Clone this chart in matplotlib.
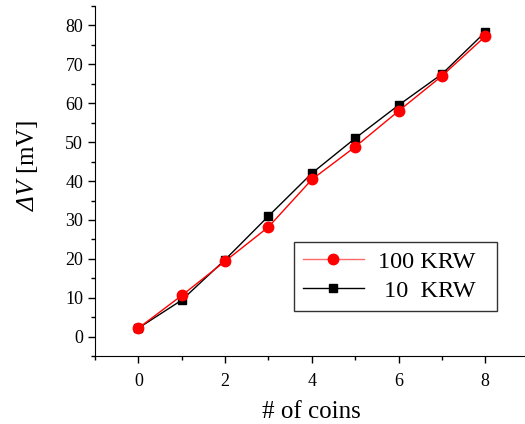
import matplotlib
matplotlib.use("Agg")
import matplotlib.pyplot as plt
from matplotlib.ticker import MultipleLocator

plt.rcParams['font.family'] = ['Liberation Serif', 'DejaVu Serif']
plt.rcParams['mathtext.fontset'] = 'custom'
plt.rcParams['mathtext.rm'] = 'Liberation Serif:italic'
plt.rcParams['mathtext.it'] = 'Liberation Serif:italic'

coins = [0, 1, 2, 3, 4, 5, 6, 7, 8]
krw100 = [2.2, 10.6, 19.4, 28.2, 40.4, 48.8, 58.0, 67.0, 77.2]
krw10 = [2.2, 9.4, 19.8, 31.0, 42.0, 51.0, 59.5, 67.5, 78.3]

fig = plt.figure(figsize=(5.25, 4.24), dpi=100)
ax = fig.add_axes([0.181, 0.160, 0.826, 0.826])

ax.plot(coins, krw100, '-o', color='red', mfc='red', mec='red', ms=7.5,
        lw=1, label='100 KRW  ', zorder=3)
ax.plot(coins, krw10, '-s', color='black', ms=6, lw=1, label=' 10  KRW  ', zorder=2)

ax.set_xlim(-1, 9)
ax.set_ylim(-5, 85)
ax.xaxis.set_major_locator(MultipleLocator(2))
ax.xaxis.set_minor_locator(MultipleLocator(1))
ax.yaxis.set_major_locator(MultipleLocator(10))
ax.yaxis.set_minor_locator(MultipleLocator(5))
ax.tick_params(which='major', direction='out', length=5, width=1, labelsize=13)
ax.tick_params(axis='x', which='major', pad=7)
ax.tick_params(which='minor', direction='out', length=3, width=1)
ax.spines['top'].set_visible(False)
ax.spines['right'].set_visible(False)

ax.set_xlabel('# of coins', fontsize=18, labelpad=8)
ax.set_ylabel(r'$\Delta V$ [mV]', fontsize=18)
ax.yaxis.set_label_coords(-0.127, 0.545)

leg = ax.legend(loc='lower right', bbox_to_anchor=(0.927, 0.129), fontsize=17.5,
                fancybox=False, edgecolor='#333333', framealpha=1,
                handlelength=2.5, handletextpad=0.6, borderpad=0.38,
                labelspacing=0.28, borderaxespad=0)
leg.get_frame().set_linewidth(1)
leg.get_lines()[0].set_color('#ff6a6a')

fig.savefig('out.png', dpi=100)
